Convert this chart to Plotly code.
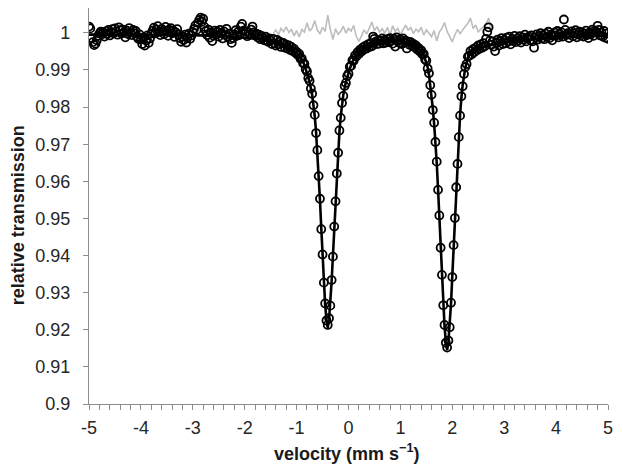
import plotly.graph_objects as go

# velocity channels (mm/s)
velocity = [
    -5.0, -4.975, -4.95, -4.925, -4.9, -4.875, -4.85, -4.825, -4.8, -4.775,
    -4.75, -4.725, -4.7, -4.675, -4.65, -4.625, -4.6, -4.575, -4.55, -4.525,
    -4.5, -4.475, -4.45, -4.425, -4.4, -4.375, -4.35, -4.325, -4.3, -4.275,
    -4.25, -4.225, -4.2, -4.175, -4.15, -4.125, -4.1, -4.075, -4.05, -4.025,
    -4.0, -3.975, -3.95, -3.925, -3.9, -3.875, -3.85, -3.825, -3.8, -3.775,
    -3.75, -3.725, -3.7, -3.675, -3.65, -3.625, -3.6, -3.575, -3.55, -3.525,
    -3.5, -3.475, -3.45, -3.425, -3.4, -3.375, -3.35, -3.325, -3.3, -3.275,
    -3.25, -3.225, -3.2, -3.175, -3.15, -3.125, -3.1, -3.075, -3.05, -3.025,
    -3.0, -2.975, -2.95, -2.925, -2.9, -2.875, -2.85, -2.825, -2.8, -2.775,
    -2.75, -2.725, -2.7, -2.675, -2.65, -2.625, -2.6, -2.575, -2.55, -2.525,
    -2.5, -2.475, -2.45, -2.425, -2.4, -2.375, -2.35, -2.325, -2.3, -2.275,
    -2.25, -2.225, -2.2, -2.175, -2.15, -2.125, -2.1, -2.075, -2.05, -2.025,
    -2.0, -1.975, -1.95, -1.925, -1.9, -1.875, -1.85, -1.825, -1.8, -1.775,
    -1.75, -1.725, -1.7, -1.675, -1.65, -1.625, -1.6, -1.575, -1.55, -1.525,
    -1.5, -1.475, -1.45, -1.425, -1.4, -1.375, -1.35, -1.325, -1.3, -1.275,
    -1.25, -1.225, -1.2, -1.175, -1.15, -1.125, -1.1, -1.075, -1.05, -1.025,
    -1.0, -0.975, -0.95, -0.925, -0.9, -0.875, -0.85, -0.825, -0.8, -0.775,
    -0.75, -0.725, -0.7, -0.675, -0.65, -0.625, -0.6, -0.575, -0.55, -0.525,
    -0.5, -0.475, -0.45, -0.425, -0.4, -0.375, -0.35, -0.325, -0.3, -0.275,
    -0.25, -0.225, -0.2, -0.175, -0.15, -0.125, -0.1, -0.075, -0.05, -0.025,
    0.0, 0.025, 0.05, 0.075, 0.1, 0.125, 0.15, 0.175, 0.2, 0.225,
    0.25, 0.275, 0.3, 0.325, 0.35, 0.375, 0.4, 0.425, 0.45, 0.475,
    0.5, 0.525, 0.55, 0.575, 0.6, 0.625, 0.65, 0.675, 0.7, 0.725,
    0.75, 0.775, 0.8, 0.825, 0.85, 0.875, 0.9, 0.925, 0.95, 0.975,
    1.0, 1.025, 1.05, 1.075, 1.1, 1.125, 1.15, 1.175, 1.2, 1.225,
    1.25, 1.275, 1.3, 1.325, 1.35, 1.375, 1.4, 1.425, 1.45, 1.475,
    1.5, 1.525, 1.55, 1.575, 1.6, 1.625, 1.65, 1.675, 1.7, 1.725,
    1.75, 1.775, 1.8, 1.825, 1.85, 1.875, 1.9, 1.925, 1.95, 1.975,
    2.0, 2.025, 2.05, 2.075, 2.1, 2.125, 2.15, 2.175, 2.2, 2.225,
    2.25, 2.275, 2.3, 2.325, 2.35, 2.375, 2.4, 2.425, 2.45, 2.475,
    2.5, 2.525, 2.55, 2.575, 2.6, 2.625, 2.65, 2.675, 2.7, 2.725,
    2.75, 2.775, 2.8, 2.825, 2.85, 2.875, 2.9, 2.925, 2.95, 2.975,
    3.0, 3.025, 3.05, 3.075, 3.1, 3.125, 3.15, 3.175, 3.2, 3.225,
    3.25, 3.275, 3.3, 3.325, 3.35, 3.375, 3.4, 3.425, 3.45, 3.475,
    3.5, 3.525, 3.55, 3.575, 3.6, 3.625, 3.65, 3.675, 3.7, 3.725,
    3.75, 3.775, 3.8, 3.825, 3.85, 3.875, 3.9, 3.925, 3.95, 3.975,
    4.0, 4.025, 4.05, 4.075, 4.1, 4.125, 4.15, 4.175, 4.2, 4.225,
    4.25, 4.275, 4.3, 4.325, 4.35, 4.375, 4.4, 4.425, 4.45, 4.475,
    4.5, 4.525, 4.55, 4.575, 4.6, 4.625, 4.65, 4.675, 4.7, 4.725,
    4.75, 4.775, 4.8, 4.825, 4.85, 4.875, 4.9, 4.925, 4.95, 4.975,
    5.0,
]

# measured relative transmission (open circles)
transmission = [
    1.0017, 1.0012, 0.9986, 0.9975, 0.9967, 0.9971, 0.9980, 0.9992, 0.9998, 1.0003,
    0.9996, 1.0001, 0.9990, 1.0004, 0.9997, 1.0008, 0.9993, 1.0002, 1.0010, 0.9999,
    1.0012, 1.0004, 0.9995, 1.0015, 1.0007, 0.9998, 1.0009, 1.0001, 0.9988, 1.0006,
    0.9997, 1.0013, 1.0002, 0.9994, 1.0008, 0.9999, 1.0005, 0.9990, 0.9984, 0.9996,
    0.9982, 0.9970, 0.9988, 0.9966, 0.9979, 0.9993, 0.9973, 0.9985, 0.9998, 1.0006,
    1.0014, 0.9999, 1.0009, 1.0018, 1.0003, 0.9994, 1.0011, 1.0005, 0.9997, 1.0016,
    1.0004, 0.9992, 1.0008, 1.0013, 0.9999, 1.0006, 0.9989, 1.0001, 1.0010, 0.9995,
    0.9986, 0.9976, 0.9990, 0.9981, 0.9995, 0.9974, 0.9988, 0.9998, 0.9984, 0.9993,
    1.0002, 1.0011, 1.0020, 1.0008, 1.0027, 1.0035, 1.0041, 1.0030, 1.0038, 1.0016,
    1.0005, 0.9994, 1.0009, 0.9987, 1.0001, 0.9978, 0.9992, 1.0006, 0.9996, 1.0003,
    0.9990, 1.0008, 0.9999, 0.9985, 1.0004, 0.9995, 1.0011, 0.9989, 0.9998, 0.9983,
    0.9973, 0.9986, 0.9996, 1.0007, 0.9992, 1.0003, 0.9994, 1.0017, 1.0024, 1.0006,
    0.9997, 1.0004, 0.9991, 1.0002, 0.9995, 1.0009, 1.0017, 1.0001, 0.9993, 0.9998,
    0.9988, 0.9995, 0.9983, 0.9992, 0.9986, 0.9980, 0.9990, 0.9981, 0.9976, 0.9985,
    0.9979, 0.9970, 0.9984, 0.9972, 0.9966, 0.9981, 0.9969, 0.9976, 0.9962, 0.9973,
    0.9972, 0.9960, 0.9968, 0.9958, 0.9966, 0.9954, 0.9962, 0.9951, 0.9957, 0.9946,
    0.9949, 0.9940, 0.9943, 0.9930, 0.9931, 0.9918, 0.9917, 0.9902, 0.9896, 0.9878,
    0.9871, 0.9850, 0.9836, 0.9805, 0.9779, 0.9730, 0.9684, 0.9614, 0.9553, 0.9471,
    0.9403, 0.9327, 0.9271, 0.9225, 0.9213, 0.9231, 0.9265, 0.9334, 0.9397, 0.9478,
    0.9546, 0.9621, 0.9677, 0.9737, 0.9771, 0.9811, 0.9830, 0.9857, 0.9865, 0.9884,
    0.9890, 0.9909, 0.9911, 0.9926, 0.9925, 0.9939, 0.9936, 0.9948, 0.9943, 0.9955,
    0.9950, 0.9961, 0.9955, 0.9965, 0.9958, 0.9969, 0.9962, 0.9972, 0.9964, 0.9990,
    0.9984, 0.9976, 0.9970, 0.9980, 0.9971, 0.9979, 0.9985, 0.9972, 0.9981, 0.9974,
    0.9983, 0.9975, 0.9986, 0.9978, 0.9971, 0.9984, 0.9963, 0.9988, 0.9980, 0.9973,
    0.9982, 0.9970, 0.9985, 0.9974, 0.9979, 0.9958, 0.9976, 0.9968, 0.9975, 0.9966,
    0.9970, 0.9961, 0.9966, 0.9955, 0.9959, 0.9950, 0.9953, 0.9942, 0.9943, 0.9929,
    0.9925, 0.9904, 0.9891, 0.9859, 0.9833, 0.9792, 0.9758, 0.9706, 0.9653, 0.9577,
    0.9508, 0.9421, 0.9348, 0.9266, 0.9213, 0.9165, 0.9152, 0.9171, 0.9207, 0.9273,
    0.9342, 0.9428, 0.9501, 0.9584, 0.9647, 0.9719, 0.9777, 0.9829, 0.9856, 0.9889,
    0.9908, 0.9916, 0.9936, 0.9938, 0.9951, 0.9942, 0.9956, 0.9948, 0.9960, 0.9953,
    0.9966, 0.9957, 0.9969, 0.9960, 0.9972, 0.9964, 0.9984, 1.0003, 1.0015, 0.9979,
    0.9968, 0.9977, 0.9963, 0.9951, 0.9974, 0.9982, 0.9966, 0.9978, 0.9986, 0.9970,
    0.9981, 0.9972, 0.9987, 0.9976, 0.9990, 0.9969, 0.9983, 0.9978, 0.9992, 0.9975,
    0.9985, 0.9979, 0.9991, 0.9974, 0.9988, 0.9982, 0.9995, 0.9977, 0.9986, 0.9990,
    0.9981, 0.9993, 0.9977, 0.9960, 0.9988, 0.9996, 0.9982, 0.9991, 0.9999, 0.9985,
    0.9994, 0.9983, 0.9998, 0.9989, 1.0003, 0.9986, 0.9995, 0.9980, 0.9992, 1.0001,
    0.9993, 1.0005, 0.9988, 0.9997, 1.0002, 0.9990, 1.0036, 1.0008, 0.9994, 0.9999,
    0.9986, 0.9997, 1.0004, 0.9991, 0.9999, 1.0007, 0.9988, 0.9996, 1.0003, 0.9993,
    1.0001, 0.9990, 0.9998, 1.0006, 0.9994, 0.9986, 1.0002, 0.9997, 1.0009, 0.9992,
    1.0006, 1.0002, 1.0019, 1.0008, 0.9993, 1.0001, 0.9990, 1.0005, 0.9987, 0.9998,
    0.9984,
]

# fitted curve (black line)
fit_velocity = [
    -5.0, -4.0, -3.0, -2.4, -2.0, -1.8, -1.6, -1.4, -1.3, -1.2, -1.1, -1.0,
    -0.95, -0.9, -0.85, -0.8, -0.75, -0.7, -0.675, -0.65, -0.625, -0.6, -0.575,
    -0.55, -0.525, -0.5, -0.475, -0.45, -0.425, -0.4, -0.375, -0.35, -0.325,
    -0.3, -0.275, -0.25, -0.225, -0.2, -0.175, -0.15, -0.125, -0.1, -0.05, 0.0,
    0.05, 0.1, 0.2, 0.3, 0.4, 0.5, 0.6, 0.7, 0.8, 0.9, 1.0, 1.1, 1.2, 1.3,
    1.35, 1.4, 1.45, 1.5, 1.525, 1.55, 1.575, 1.6, 1.625, 1.65, 1.675, 1.7,
    1.725, 1.75, 1.775, 1.8, 1.825, 1.85, 1.875, 1.9, 1.925, 1.95, 1.975, 2.0,
    2.025, 2.05, 2.075, 2.1, 2.125, 2.15, 2.175, 2.2, 2.25, 2.3, 2.35, 2.4,
    2.5, 2.7, 3.0, 3.5, 4.0, 4.5, 5.0,
]
fit_transmission = [
    0.9995, 0.9995, 0.9994, 0.9991, 0.9988, 0.9985, 0.9981, 0.9975, 0.9971,
    0.9965, 0.9957, 0.9946, 0.9938, 0.9928, 0.9914, 0.9893, 0.9868, 0.9833,
    0.9808, 0.9775, 0.9733, 0.9680, 0.9618, 0.9550, 0.9475, 0.9400, 0.9330,
    0.9268, 0.9228, 0.9205, 0.9228, 0.9268, 0.9330, 0.9400, 0.9475, 0.9550,
    0.9618, 0.9680, 0.9733, 0.9775, 0.9808, 0.9833, 0.9868, 0.9893, 0.9914,
    0.9929, 0.9948, 0.9959, 0.9966, 0.9971, 0.9975, 0.9977, 0.9979, 0.9979,
    0.9978, 0.9975, 0.9970, 0.9962, 0.9957, 0.9950, 0.9940, 0.9922, 0.9908,
    0.9888, 0.9862, 0.9830, 0.9795, 0.9755, 0.9710, 0.9650, 0.9580, 0.9505,
    0.9425, 0.9345, 0.9270, 0.9210, 0.9168, 0.9145, 0.9168, 0.9210, 0.9270,
    0.9345, 0.9425, 0.9505, 0.9580, 0.9650, 0.9715, 0.9780, 0.9825, 0.9860,
    0.9905, 0.9932, 0.9945, 0.9952, 0.9960, 0.9966, 0.9974, 0.9983, 0.9988,
    0.9991, 0.9993,
]

# grey trace near the top
residual_velocity = [
    -1.45, -1.4, -1.35, -1.3, -1.25, -1.2, -1.15, -1.1, -1.05, -1.0, -0.95,
    -0.9, -0.85, -0.8, -0.75, -0.7, -0.65, -0.6, -0.55, -0.5, -0.45, -0.4,
    -0.35, -0.3, -0.25, -0.2, -0.15, -0.1, -0.05, 0.0, 0.05, 0.1, 0.15, 0.2,
    0.25, 0.3, 0.35, 0.4, 0.45, 0.5, 0.55, 0.6, 0.65, 0.7, 0.75, 0.8, 0.85,
    0.9, 0.95, 1.0, 1.05, 1.1, 1.15, 1.2, 1.25, 1.3, 1.35, 1.4, 1.45, 1.5,
    1.55, 1.6, 1.65, 1.7, 1.75, 1.8, 1.85, 1.9, 1.95, 2.0, 2.05, 2.1, 2.15,
    2.2, 2.25, 2.3, 2.35, 2.4, 2.45, 2.5, 2.55, 2.6, 2.65, 2.7, 2.75,
]
residual_values = [
    0.9998, 1.0008, 0.9995, 1.0012, 1.0003, 1.0016, 1.0001, 1.0010, 0.9992,
    1.0006, 0.9989, 1.0009, 1.0002, 1.0027, 1.0005, 1.0013, 1.0033, 1.0007,
    0.9998, 1.0015, 1.0004, 1.0048, 1.0009, 0.9982, 1.0011, 0.9996, 1.0004,
    1.0018, 0.9999, 1.0012, 1.0005, 1.0020, 0.9990, 0.9977, 0.9992, 1.0008,
    0.9997, 1.0014, 1.0029, 1.0006, 1.0017, 1.0002, 1.0011, 0.9999, 1.0015,
    0.9993, 1.0019, 1.0004, 1.0012, 0.9995, 1.0010, 1.0021, 1.0008, 1.0014,
    0.9998, 1.0010, 1.0003, 1.0015, 0.9994, 1.0008, 0.9999, 0.9990, 1.0006,
    0.9978, 1.0002, 1.0012, 1.0028, 1.0004, 0.9990, 0.9976, 0.9995, 1.0009,
    0.9998, 1.0006, 1.0017, 1.0026, 1.0040, 1.0012, 1.0021, 1.0003, 1.0010,
    1.0019, 1.0024, 1.0040, 1.0006,
]

x_tickvals = [-5, -4, -3, -2, -1, 0, 1, 2, 3, 4, 5]
x_ticktext = ["-5", "-4", "-3", "-2", "-1", "0", "1", "2", "3", "4", "5"]
y_tickvals = [0.9, 0.91, 0.92, 0.93, 0.94, 0.95, 0.96, 0.97, 0.98, 0.99, 1.0]
y_ticktext = ["0.9", "0.91", "0.92", "0.93", "0.94", "0.95", "0.96", "0.97",
              "0.98", "0.99", "1"]

font_family = "Liberation Sans, Arial, sans-serif"
axis_grey = "#8c8c8c"

fig = go.Figure()

fig.add_trace(go.Scatter(
    x=residual_velocity, y=residual_values, mode="lines",
    line=dict(color="#bdbdbd", width=1.6), hoverinfo="skip"))

fig.add_trace(go.Scatter(
    x=velocity, y=transmission, mode="markers",
    marker=dict(symbol="circle-open", size=8, color="black",
                line=dict(width=1.8))))

fig.add_trace(go.Scatter(
    x=fit_velocity, y=fit_transmission, mode="lines",
    line=dict(color="black", width=2.6)))

# the page body adds an 8px offset, so the figure is 8px smaller
fig.update_layout(
    width=615, height=466,
    margin=dict(l=81, r=15, t=0, b=70),
    paper_bgcolor="white", plot_bgcolor="white",
    showlegend=False,
    font=dict(family=font_family, size=18, color="#262626"),
)

fig.update_xaxes(
    range=[-5, 5], showgrid=False, zeroline=False,
    showline=True, linecolor=axis_grey, linewidth=1.2,
    tickmode="array", tickvals=x_tickvals, ticktext=x_ticktext,
    ticks="outside", ticklen=5, tickwidth=1.2, tickcolor=axis_grey,
    minor=dict(dtick=0.2, ticks="outside", ticklen=5, tickwidth=1.2,
               tickcolor=axis_grey, showgrid=False),
    ticklabelstandoff=2,
)

fig.update_yaxes(
    range=[0.9, 1.0067], showgrid=False, zeroline=False,
    showline=True, linecolor=axis_grey, linewidth=1.2,
    tickmode="array", tickvals=y_tickvals, ticktext=y_ticktext,
    ticks="outside", ticklen=5, tickwidth=1.2, tickcolor=axis_grey,
    ticklabelstandoff=9,
)

fig.add_annotation(
    text="velocity (mm s<sup>\u22121</sup>)", xref="paper", yref="paper",
    x=0.497, y=-0.123, xanchor="center", yanchor="middle", showarrow=False,
    font=dict(family=font_family, size=18, color="#1a1a1a", weight="bold"))

fig.add_annotation(
    text="relative transmission", xref="paper", yref="paper",
    x=-0.1365, y=0.477, xanchor="center", yanchor="middle", showarrow=False,
    textangle=-90,
    font=dict(family=font_family, size=18, color="#1a1a1a", weight="bold"))

fig.write_html("out.html")
